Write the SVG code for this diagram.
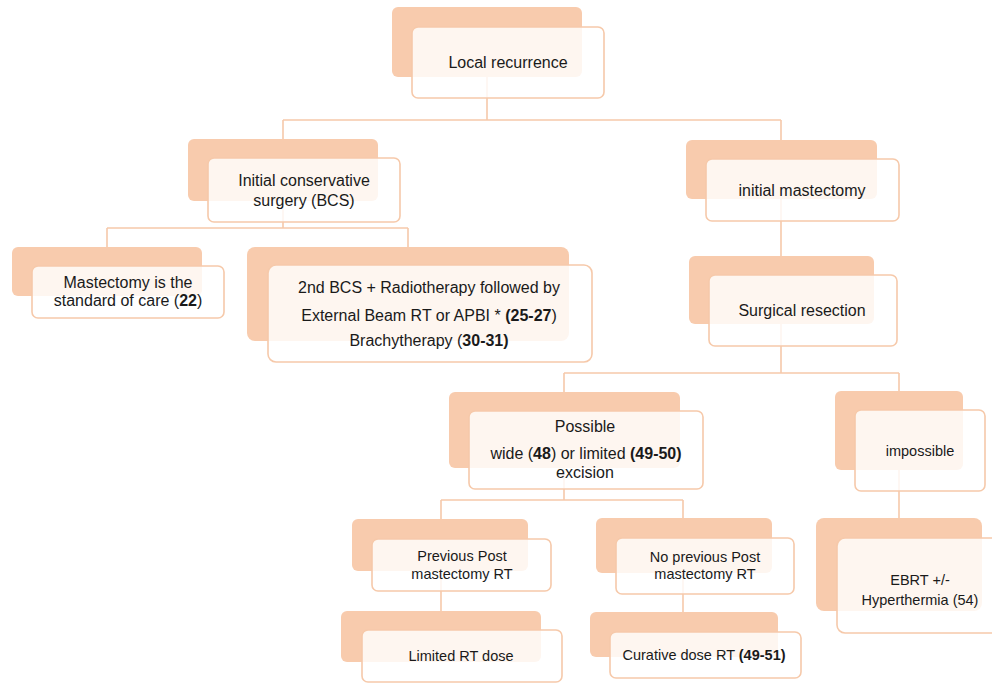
<svg xmlns="http://www.w3.org/2000/svg" width="992" height="683" viewBox="0 0 992 683">
<style>
.bk{fill:#F8CBAD;}
.fr{fill:#FFFFFF;fill-opacity:0.82;stroke:#F6C9AA;stroke-width:1.6;}
.ln{fill:none;stroke:#F6C9AA;stroke-width:1.6;}
text{font-family:"Liberation Sans",Arial,sans-serif;fill:#1a1a1a;text-anchor:middle;}
.t16{font-size:16px;}
.t14{font-size:14.5px;}
.b{font-weight:bold;}
</style>
<rect x="0" y="0" width="992" height="683" fill="#FFFFFF"/>
<g id="connectors">
<path class="ln" d="M487,77 V120 M283,120 H781 M283,120 V139 M781,120 V140"/>
<path class="ln" d="M283,201 V228 M107,228 H408 M107,228 V247 M408,228 V247"/>
<path class="ln" d="M781,199 V256"/>
<path class="ln" d="M781,324 V373 M564,373 H899 M564,373 V392 M899,373 V391"/>
<path class="ln" d="M564,468 V500 M441,500 H683 M441,500 V519 M683,500 V518"/>
<path class="ln" d="M441,571 V611"/>
<path class="ln" d="M683,573 V612"/>
<path class="ln" d="M899,470 V518"/>
</g>
<g id="n-local">
<rect class="bk" x="392" y="7" width="190" height="70" rx="6"/>
<rect class="fr" x="412" y="27" width="192" height="71" rx="6"/>
<text class="t16" x="508" y="68">Local recurrence</text>
</g>
<g id="n-bcs">
<rect class="bk" x="188" y="139" width="190" height="62" rx="6"/>
<rect class="fr" x="208" y="158" width="192" height="64" rx="6"/>
<text class="t16" x="304" y="186">Initial conservative</text>
<text class="t16" x="304" y="206">surgery (BCS)</text>
</g>
<g id="n-mastectomy-standard">
<rect class="bk" x="12" y="247" width="190" height="49" rx="6"/>
<rect class="fr" x="32" y="266" width="192" height="52" rx="6"/>
<text class="t16" x="128" y="288">Mastectomy is the</text>
<text class="t16" x="128" y="306">standard of care (<tspan class="b">22</tspan>)</text>
</g>
<g id="n-2ndbcs">
<rect class="bk" x="247" y="247" width="322" height="94" rx="8"/>
<rect class="fr" x="268" y="265" width="324" height="97" rx="8"/>
<text class="t16" x="429" y="293">2nd BCS + Radiotherapy followed by</text>
<text class="t16" x="429" y="321">External Beam RT or APBI * <tspan class="b">(25-27</tspan>)</text>
<text class="t16" x="429" y="346">Brachytherapy (<tspan class="b">30-31)</tspan></text>
</g>
<g id="n-initial-mastectomy">
<rect class="bk" x="686" y="140" width="191" height="59" rx="6"/>
<rect class="fr" x="706" y="159" width="193" height="62" rx="6"/>
<text class="t16" x="802" y="196">initial mastectomy</text>
</g>
<g id="n-surgical">
<rect class="bk" x="689" y="256" width="185" height="68" rx="6"/>
<rect class="fr" x="709" y="275" width="188" height="71" rx="6"/>
<text class="t16" x="802" y="316">Surgical resection</text>
</g>
<g id="n-possible">
<rect class="bk" x="449" y="392" width="231" height="76" rx="6"/>
<rect class="fr" x="469" y="411" width="234" height="78" rx="6"/>
<text class="t16" x="585" y="432">Possible</text>
<text class="t16" x="586" y="459">wide (<tspan class="b">48</tspan>) or limited <tspan class="b">(49-50)</tspan></text>
<text class="t16" x="585" y="478">excision</text>
</g>
<g id="n-impossible">
<rect class="bk" x="835" y="391" width="128" height="79" rx="6"/>
<rect class="fr" x="855" y="410" width="130" height="81" rx="6"/>
<text class="t14" x="920" y="456">impossible</text>
</g>
<g id="n-previous">
<rect class="bk" x="352" y="519" width="176" height="52" rx="6"/>
<rect class="fr" x="372" y="539" width="179" height="52" rx="6"/>
<text class="t14" x="462" y="561">Previous Post</text>
<text class="t14" x="462" y="579">mastectomy RT</text>
</g>
<g id="n-noprevious">
<rect class="bk" x="596" y="518" width="176" height="55" rx="6"/>
<rect class="fr" x="616" y="538" width="178" height="56" rx="6"/>
<text class="t14" x="705" y="562">No previous Post</text>
<text class="t14" x="705" y="579">mastectomy RT</text>
</g>
<g id="n-limited">
<rect class="bk" x="341" y="611" width="200" height="51" rx="6"/>
<rect class="fr" x="362" y="630" width="200" height="52" rx="6"/>
<text class="t14" x="461" y="661">Limited RT dose</text>
</g>
<g id="n-curative">
<rect class="bk" x="590" y="612" width="188" height="45" rx="6"/>
<rect class="fr" x="610" y="632" width="191" height="46" rx="6"/>
<text class="t14" x="704" y="660">Curative dose RT <tspan class="b">(49-51)</tspan></text>
</g>
<g id="n-ebrt">
<rect class="bk" x="816" y="518" width="166" height="93" rx="8"/>
<rect class="fr" x="837" y="538" width="170" height="95" rx="8"/>
<text class="t14" x="920" y="585">EBRT +/-</text>
<text class="t14" x="920" y="605">Hyperthermia (54)</text>
</g>
</svg>
